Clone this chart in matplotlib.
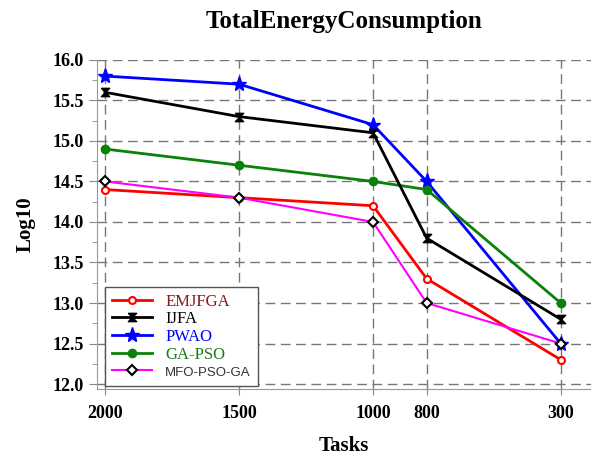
import matplotlib
matplotlib.use('Agg')
import matplotlib.pyplot as plt
from matplotlib.ticker import MultipleLocator

tasks = [2000, 1500, 1000, 800, 300]

emjfga = [14.4, 14.3, 14.2, 13.3, 12.3]
ijfa = [15.6, 15.3, 15.1, 13.8, 12.8]
pwao = [15.8, 15.7, 15.2, 14.5, 12.5]
ga_pso = [14.9, 14.7, 14.5, 14.4, 13.0]
mfo_pso_ga = [14.5, 14.3, 14.0, 13.0, 12.5]

serif = 'Liberation Serif'
hourglass = [(-1, 1), (1, 1), (-1, -1), (1, -1), (-1, 1)]

fig = plt.figure(figsize=(5.91, 4.57), dpi=100)
ax = fig.add_axes([0.164, 0.149, 0.836, 0.72])

ax.plot(tasks, emjfga, color='#ff0000', lw=2, marker='o', ms=5,
        mfc='white', mec='#ff0000', mew=1.5, label='EMJFGA', zorder=5)
ax.plot(tasks, ijfa, color='black', lw=2, marker=hourglass, ms=6,
        mfc='black', mec='black', label='IJFA', zorder=4)
ax.plot(tasks, pwao, color='#0000ff', lw=2, marker='*', ms=11,
        label='PWAO', zorder=3)
ax.plot(tasks, ga_pso, color='#0a820a', lw=2, marker='o', ms=6,
        label='GA-PSO', zorder=3)
ax.plot(tasks, mfo_pso_ga, color='#ff00ff', lw=1.5, marker='D', ms=5,
        mfc='white', mec='black', mew=1.5, label='MFO-PSO-GA', zorder=6)

ax.set_xlim(2030, 187)
ax.set_ylim(11.94, 16.0)
ax.set_xticks(tasks)
ax.set_xticklabels([str(t) for t in tasks])
ax.yaxis.set_minor_locator(MultipleLocator(0.25))
ax.set_yticks([12.0 + 0.5 * i for i in range(9)])
ax.set_yticklabels(['%.1f' % (12.0 + 0.5 * i) for i in range(9)])

for lab in ax.get_xticklabels() + ax.get_yticklabels():
    lab.set_fontfamily(serif)
    lab.set_fontweight('bold')
    lab.set_fontsize(13)

ax.tick_params(axis='y', which='major', direction='out', color='#888888', length=6)
ax.tick_params(axis='y', which='minor', direction='out', color='#888888', length=3.5)
ax.tick_params(axis='x', direction='inout', color='#888888', length=9, pad=7)

ax.grid(True, which='major', linestyle=(0, (7, 4)), color='#777777', lw=1)
ax.set_axisbelow(True)
for s in ['top', 'right']:
    ax.spines[s].set_visible(False)
for s in ['left', 'bottom']:
    ax.spines[s].set_color('#999999')

ax.set_title('TotalEnergyConsumption', fontfamily=serif, fontweight='bold',
             fontsize=18, pad=23)
ax.set_xlabel('Tasks', fontfamily=serif, fontweight='bold', fontsize=15, labelpad=10)
ax.set_ylabel('Log10', fontfamily=serif, fontweight='bold', fontsize=15, labelpad=12)

leg = ax.legend(loc='lower left', bbox_to_anchor=(0.0, -0.015), fancybox=False,
                edgecolor='#555555', framealpha=1, handlelength=2.4,
                borderpad=0.4, labelspacing=0.1, prop={'family': serif, 'size': 12})
text_colors = ['#8b1a1a', 'black', '#0000ff', '#1a7a1a', '#333333']
for t, c in zip(leg.get_texts(), text_colors):
    t.set_color(c)
leg.get_texts()[4].set_fontfamily('Liberation Sans')
leg.get_texts()[4].set_fontsize(9.5)

plt.savefig('out.png', dpi=100)
